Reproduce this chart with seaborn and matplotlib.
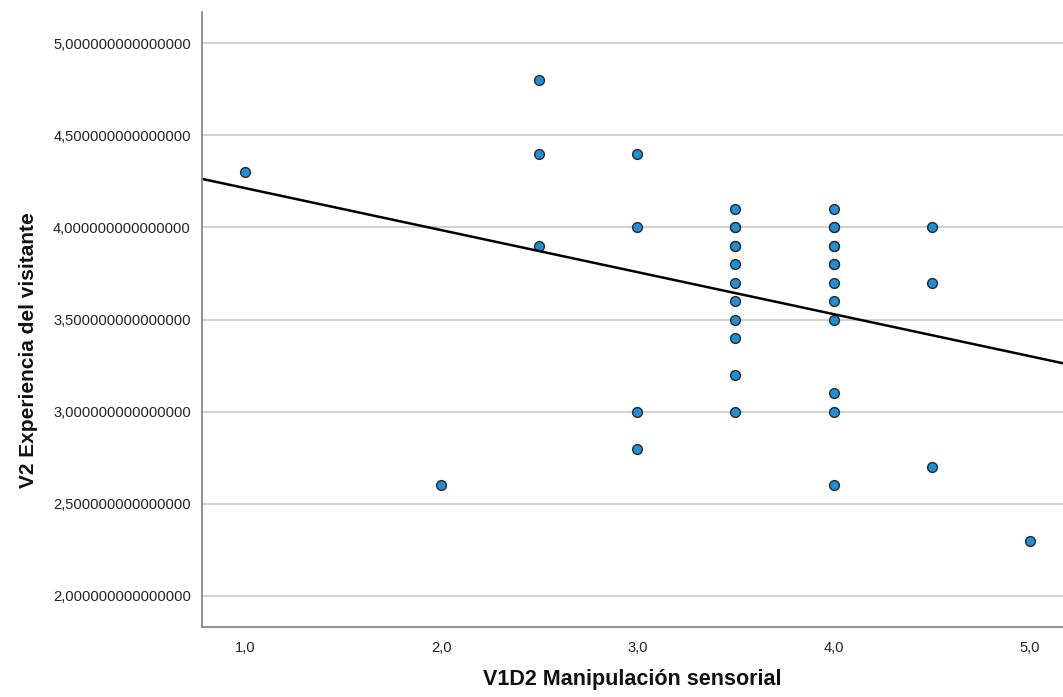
import pandas as pd
import matplotlib
matplotlib.use('Agg')
import matplotlib.pyplot as plt
import seaborn as sns
from matplotlib.ticker import FuncFormatter

sns.set_style('white')
plt.rcParams['font.family'] = ['Liberation Sans', 'DejaVu Sans']

# V1D2 Manipulación sensorial (x) and V2 Experiencia del visitante (y)
# repeated pairs are overplotted, as in the original
x_vals = [1.0,
          2.0,
          2.5, 2.5, 2.5,
          3.0, 3.0, 3.0, 3.0,
          3.5, 3.5, 3.5, 3.5, 3.5, 3.5, 3.5, 3.5, 3.5, 3.5, 3.5, 3.5,
          4.0, 4.0, 4.0, 4.0, 4.0, 4.0, 4.0, 4.0, 4.0, 4.0, 4.0, 4.0, 4.0,
          4.5, 4.5, 4.5,
          5.0]
y_vals = [4.3,
          2.6,
          4.8, 4.4, 3.9,
          4.4, 4.0, 3.0, 2.8,
          4.1, 4.0, 4.0, 3.9, 3.9, 3.8, 3.7, 3.6, 3.5, 3.4, 3.2, 3.0,
          4.1, 4.0, 4.0, 3.9, 3.9, 3.8, 3.8, 3.7, 3.6, 3.5, 3.1, 3.0, 2.6,
          4.0, 3.7, 2.7,
          2.3]

df = pd.DataFrame({'V1D2 Manipulación sensorial': x_vals,
                   'V2 Experiencia del visitante': y_vals})

fig = plt.figure(figsize=(10.63, 6.97), dpi=100)
ax = fig.add_axes([0.19, 0.10, 0.81, 0.883])
ax.set_xlim(0.78, 5.17)
ax.set_ylim(1.83, 5.17)

ax.set_yticks([2.0, 2.5, 3.0, 3.5, 4.0, 4.5, 5.0])
ax.set_xticks([1.0, 2.0, 3.0, 4.0, 5.0])
ax.yaxis.grid(True, color='#c8c8c8', linewidth=1.2)
ax.set_axisbelow(True)

sns.regplot(data=df, x='V1D2 Manipulación sensorial', y='V2 Experiencia del visitante',
            ax=ax, ci=None, truncate=False,
            scatter_kws=dict(s=50, color='#1f8fd9', edgecolor='#2a2a2a', linewidths=1.0, alpha=1),
            line_kws=dict(color='black', linewidth=1.8))

ax.yaxis.set_major_formatter(FuncFormatter(lambda v, p: f'{v:.15f}'.replace('.', ',')))
ax.xaxis.set_major_formatter(FuncFormatter(lambda v, p: f'{v:.1f}'.replace('.', ',')))
ax.tick_params(axis='both', length=0, labelsize=10.6, colors='#222222')
ax.tick_params(axis='x', pad=10)
ax.tick_params(axis='y', pad=8)

for side in ['top', 'right']:
    ax.spines[side].set_visible(False)
for side in ['left', 'bottom']:
    ax.spines[side].set_color('#888888')
    ax.spines[side].set_linewidth(1.3)

ax.set_xlabel('V1D2 Manipulación sensorial', fontsize=15.5, fontweight='bold',
              color='#111111', labelpad=10)
ax.set_ylabel('V2 Experiencia del visitante', fontsize=15, fontweight='bold',
              color='#111111')
ax.yaxis.set_label_coords(-0.191, 0.45)

fig.savefig('out.png', dpi=100)
